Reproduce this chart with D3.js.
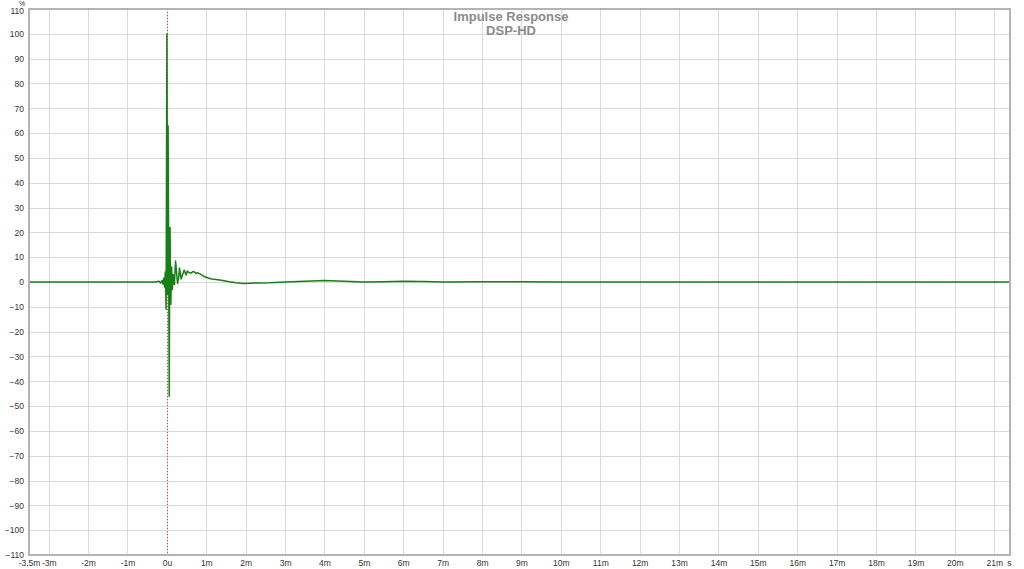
<!DOCTYPE html>
<html><head><meta charset="utf-8">
<script src="https://cdn.jsdelivr.net/npm/d3@7"></script>
<style>html,body{margin:0;padding:0;background:#fff;}svg{display:block;}</style>
</head><body>
<svg id="c" width="1024" height="569"></svg>
<script>
// ---- data ----
const timeMs = [-3.5,-1.0,-0.3,-0.2,-0.16,-0.12,-0.1,-0.08,-0.06,-0.04,-0.02,0.0,0.01,0.02,0.03,0.04,0.05,0.06,0.07,0.08,0.09,0.10,0.12,0.14,0.16,0.19,0.22,0.25,0.27,0.30,0.32,0.34,0.36,0.40,0.44,0.47,0.49,0.52,0.56,0.61,0.66,0.70,0.74,0.77,0.85,0.95,1.05,1.13,1.25,1.38,1.55,1.75,1.95,2.1,2.3,2.6,3.0,3.5,4.0,4.5,5.0,5.5,6.0,6.5,7.0,8.0,9.0,10,12,15,18,21.4];
const percent = [0,0,0,0.3,-0.4,0.6,-0.8,1.5,-2,4,-11,100,40,-5,63,30,-10,-46,5,22,0,-9,6,-3,3,-1,8.5,3,-0.5,2,5.6,3.5,1.2,3,4.8,3.5,2.8,4.4,3.8,3.6,4.2,4,3.4,3.8,3.2,2.2,1.6,1.2,1.0,0.7,0.2,-0.3,-0.6,-0.5,-0.4,-0.3,0,0.3,0.6,0.3,0,0.1,0.3,0.2,0,0.1,0.1,0,0,0,0,0];
const xTicks = [-3.5,-3,-2,-1,0,1,2,3,4,5,6,7,8,9,10,11,12,13,14,15,16,17,18,19,20,21];
const xTickLabels = ["-3,5m","-3m","-2m","-1m","0u","1m","2m","3m","4m","5m","6m","7m","8m","9m","10m","11m","12m","13m","14m","15m","16m","17m","18m","19m","20m","21m"];
const yTicks = d3.range(-110, 111, 10);
const titleLines = ["Impulse Response","DSP-HD"];
const yUnit = "%";
const xUnit = "s";

// ---- layout ----
const L = 29, R = 1010, T = 9, B = 555;
const svg = d3.select("#c");
const x = d3.scaleLinear().domain([-3.5, 21.4]).range([L, R]);
const y = d3.scaleLinear().domain([-110, 110]).range([B, T]);
const font = "'Liberation Sans', Arial, sans-serif";

// grid
const g = svg.append("g");
g.selectAll("line.vx").data(xTicks.filter(d => d > -3.5)).join("line")
  .attr("x1", d => Math.round(x(d)) + 0.5).attr("x2", d => Math.round(x(d)) + 0.5)
  .attr("y1", T).attr("y2", B).attr("stroke", "#d9d9d9").attr("stroke-width", 1);
g.selectAll("line.hy").data(yTicks.filter(d => d > -110 && d < 110)).join("line")
  .attr("y1", d => Math.round(y(d)) + 0.5).attr("y2", d => Math.round(y(d)) + 0.5)
  .attr("x1", L).attr("x2", R).attr("stroke", "#d9d9d9").attr("stroke-width", 1);

// zero-time marker
svg.append("line").attr("x1", Math.round(x(0)) + 0.5).attr("x2", Math.round(x(0)) + 0.5)
  .attr("y1", T).attr("y2", B).attr("stroke", "#f03c3c").attr("stroke-width", 1)
  .attr("stroke-dasharray", "1,2");

// curve
const line = d3.line().x((d, i) => x(timeMs[i])).y(d => y(d));
svg.append("path").datum(percent).attr("d", line)
  .attr("fill", "none").attr("stroke", "#167f16").attr("stroke-width", 1.5)
  .attr("stroke-linejoin", "round");

// frame
svg.append("rect").attr("x", L).attr("y", T).attr("width", R - L).attr("height", B - T)
  .attr("fill", "none").attr("stroke", "#b4b4b4").attr("stroke-width", 2);

// axes labels
const yAx = d3.axisLeft(y).tickValues(yTicks).tickSize(0).tickPadding(4).tickFormat(d3.format("d"));
const ya = svg.append("g").attr("transform", `translate(${L-1},0)`).call(yAx);
ya.select(".domain").remove();
ya.selectAll("text").attr("font-family", font).attr("font-size", 8.5).attr("fill", "#333");
ya.selectAll(".tick").filter(d => d === 110).select("text").attr("dy", "0.55em");

const xAx = d3.axisBottom(x).tickValues(xTicks).tickSize(0).tickPadding(4).tickFormat((d, i) => xTickLabels[i]);
const xa = svg.append("g").attr("transform", `translate(0,${B+1})`).call(xAx);
xa.select(".domain").remove();
xa.selectAll("text").attr("font-family", font).attr("font-size", 8.5).attr("fill", "#333");

svg.append("text").attr("x", x(21) + 13).attr("y", 566).attr("font-family", font)
  .attr("font-size", 8.5).attr("fill", "#333").text(xUnit);
svg.append("text").attr("x", 22).attr("y", 6).attr("text-anchor", "middle").attr("font-family", font)
  .attr("font-size", 7).attr("fill", "#333").text(yUnit);

// title
svg.selectAll("text.title").data(titleLines).join("text").attr("class", "title")
  .attr("x", 511).attr("y", (d, i) => 21 + i * 14).attr("text-anchor", "middle")
  .attr("font-family", font).attr("font-size", 13).attr("font-weight", "bold")
  .attr("fill", "#8a8a8a").text(d => d);
</script>
</body></html>
